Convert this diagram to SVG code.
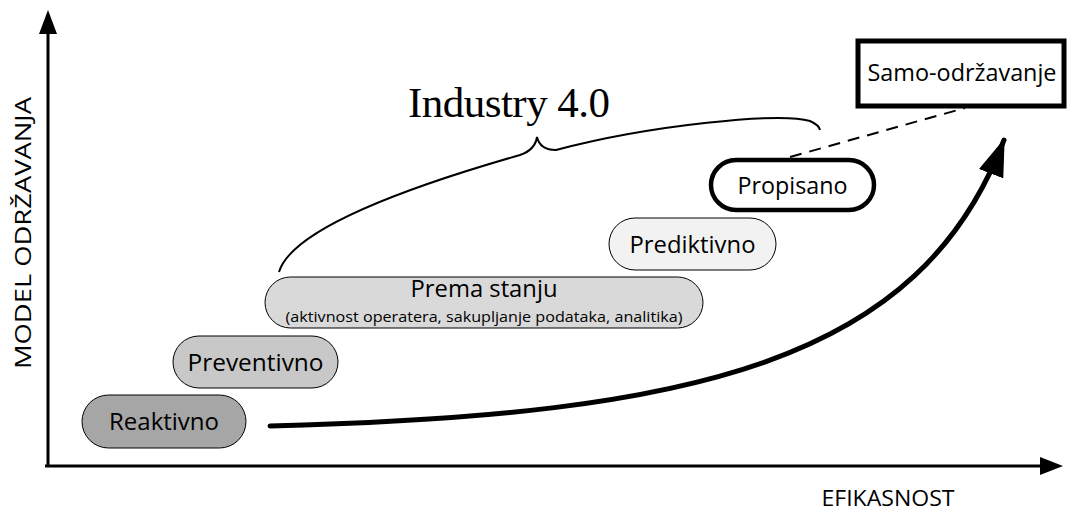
<svg xmlns="http://www.w3.org/2000/svg" width="1069" height="512" viewBox="0 0 1069 512">
<style>
.t{font-family:"Open Sans","Noto Sans","Liberation Sans",sans-serif;fill:#000}
.n{stroke:#000;stroke-width:1}
</style>
<defs>
<marker id="big" viewBox="0 0 40 28" refX="38" refY="14" markerWidth="38" markerHeight="26" orient="auto" markerUnits="userSpaceOnUse" preserveAspectRatio="none">
<path d="M0,0 L40,14 L0,28 z" fill="#000"/>
</marker>
</defs>
<rect width="1069" height="512" fill="#fff"/>
<g id="axes">
<line x1="48" y1="466" x2="48" y2="33" stroke="#000" stroke-width="3"/>
<path d="M48,10 L57,34 L39,34 z" fill="#000"/>
<line x1="45" y1="466" x2="1045" y2="466" stroke="#000" stroke-width="3"/>
<path d="M1063,466 L1040,457 L1040,475 z" fill="#000"/>
<text class="t" x="0" y="0" font-size="21" text-anchor="middle" transform="translate(31,233) rotate(-90)" textLength="272" lengthAdjust="spacingAndGlyphs">MODEL ODRŽAVANJA</text>
<text class="t" x="888" y="506" font-size="21" text-anchor="middle" textLength="133" lengthAdjust="spacingAndGlyphs">EFIKASNOST</text>
</g>
<g id="connectors">
<path d="M270,426 C700,415 920,360 1004,140" fill="none" stroke="#000" stroke-width="5" stroke-linecap="round" marker-end="url(#big)"/>
<line x1="790" y1="157" x2="965" y2="108" stroke="#000" stroke-width="2" stroke-dasharray="12,8"/>
<path d="M279,272 C290,235 380,195 520,155 Q535,150 537,137 Q540,150 556,150 C650,125 780,112 810,121 Q819,125 820,130" fill="none" stroke="#000" stroke-width="2"/>
<text x="509" y="117" font-family="Liberation Serif,serif" font-size="43" text-anchor="middle" textLength="202">Industry 4.0</text>
</g>
<g id="reaktivno">
<rect x="82" y="395" width="164" height="53" rx="26.5" fill="#a6a6a6" class="n"/>
<text class="t" x="164" y="430" font-size="24" text-anchor="middle" textLength="110" lengthAdjust="spacingAndGlyphs">Reaktivno</text>
</g>
<g id="preventivno">
<rect x="173" y="336" width="165" height="52" rx="26" fill="#c8c8c8" class="n"/>
<text class="t" x="255.5" y="371" font-size="24" text-anchor="middle" textLength="136" lengthAdjust="spacingAndGlyphs">Preventivno</text>
</g>
<g id="prema-stanju">
<rect x="265" y="277" width="438" height="51" rx="25.5" fill="#d9d9d9" class="n"/>
<text class="t" x="484" y="297" font-size="23" text-anchor="middle" textLength="147" lengthAdjust="spacingAndGlyphs">Prema stanju</text>
<text class="t" x="484" y="322" font-size="15" text-anchor="middle" textLength="397" lengthAdjust="spacingAndGlyphs">(aktivnost operatera, sakupljanje podataka, analitika)</text>
</g>
<g id="prediktivno">
<rect x="609" y="218" width="167" height="52" rx="26" fill="#f2f2f2" class="n"/>
<text class="t" x="692.5" y="253" font-size="24" text-anchor="middle" textLength="126" lengthAdjust="spacingAndGlyphs">Prediktivno</text>
</g>
<g id="propisano">
<rect x="711" y="160" width="163" height="50" rx="25" fill="#fff" stroke="#000" stroke-width="4.5"/>
<text class="t" x="792.5" y="194" font-size="24" text-anchor="middle" textLength="110" lengthAdjust="spacingAndGlyphs">Propisano</text>
</g>
<g id="samo-odrzavanje">
<rect x="858" y="41" width="206" height="65" fill="#fff" stroke="#000" stroke-width="5"/>
<text class="t" x="962" y="81" font-size="24" text-anchor="middle" textLength="189" lengthAdjust="spacingAndGlyphs">Samo-održavanje</text>
</g>
</svg>
